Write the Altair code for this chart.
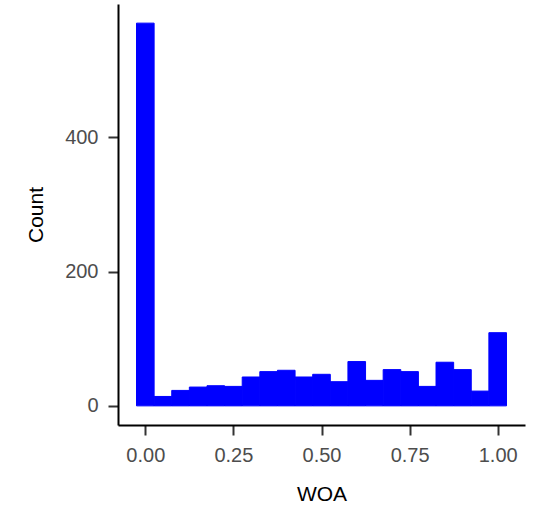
import altair as alt
import pandas as pd

# Histogram of WOA: bin centres and counts
bin_centers = [0.00, 0.05, 0.10, 0.15, 0.20, 0.25, 0.30, 0.35, 0.40, 0.45, 0.50,
               0.55, 0.60, 0.65, 0.70, 0.75, 0.80, 0.85, 0.90, 0.95, 1.00]
counts = [570, 14, 23, 28, 30, 29, 43, 51, 53, 43, 47,
          36, 66, 38, 54, 51, 29, 65, 54, 22, 109]
bin_width = 0.05
x_ticks = [0.0, 0.25, 0.5, 0.75, 1.0]
y_ticks = [0, 200, 400]

df = pd.DataFrame({
    "center": bin_centers,
    "count": counts,
})
df["start"] = df["center"] - bin_width / 2
df["end"] = df["center"] + bin_width / 2
df["zero"] = 0

FONT = "Liberation Sans"

x_axis = alt.Axis(
    values=x_ticks, format=".2f", title="WOA",
    grid=False, domainColor="black", domainWidth=2,
    tickColor="#333333", tickWidth=2, tickSize=10,
    labelColor="#4D4D4D", labelFont=FONT, labelFontSize=20, labelPadding=10,
    titleFont=FONT, titleFontSize=21, titleFontWeight="normal", titleColor="black",
    titleX=203.5, titleY=69, titleBaseline="middle", titleAlign="center",
)
y_axis = alt.Axis(
    values=y_ticks, title="Count",
    grid=False, domainColor="black", domainWidth=2,
    tickColor="#333333", tickWidth=2, tickSize=10,
    labelColor="#4D4D4D", labelFont=FONT, labelFontSize=20, labelPadding=10,
    titleFont=FONT, titleFontSize=21, titleFontWeight="normal", titleColor="black",
    titleX=-82, titleY=210.5, titleAngle=-90, titleBaseline="middle", titleAlign="center",
)

chart = alt.Chart(df).mark_rect(color="#0000FF", stroke="#0000FF", strokeWidth=1).encode(
    x=alt.X("start:Q", scale=alt.Scale(domain=[-0.0775, 1.0775], nice=False, zero=False), axis=x_axis),
    x2="end:Q",
    y=alt.Y("count:Q", scale=alt.Scale(domain=[-28.5, 598.5], nice=False, zero=False), axis=y_axis),
    y2="zero:Q",
).properties(
    width=407, height=421,
    background="white",
    autosize=alt.AutoSizeParams(type="none"),
    padding={"left": 118, "top": 4, "right": 32, "bottom": 85},
).configure_view(stroke=None)

chart.save("out.html", embed_options={"renderer": "svg", "actions": False})
